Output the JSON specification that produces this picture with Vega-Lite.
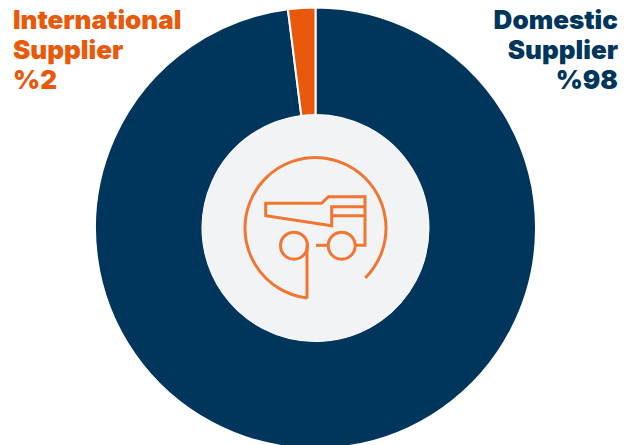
{
  "$schema": "https://vega.github.io/schema/vega-lite/v6.json",
  "width": 631,
  "height": 445,
  "padding": 0,
  "autosize": {"type": "none"},
  "background": "#ffffff",
  "view": {"stroke": null},
  "datasets": {
    "suppliers": [
      {"supplier": "Domestic Supplier", "share": 98, "rank": 1, "label": "Domestic\nSupplier\n%98"},
      {"supplier": "International Supplier", "share": 2, "rank": 2, "label": "International\nSupplier\n%2"}
    ],
    "truck": [
      {"part": "body", "step": 1, "px": 356, "py": 245.2},
      {"part": "body", "step": 2, "px": 365, "py": 245.2},
      {"part": "body", "step": 3, "px": 365, "py": 196.7},
      {"part": "body", "step": 4, "px": 328.3, "py": 196.7},
      {"part": "body", "step": 5, "px": 321.7, "py": 203.3},
      {"part": "body", "step": 6, "px": 265.7, "py": 203.3},
      {"part": "body", "step": 7, "px": 265.7, "py": 215.7},
      {"part": "body", "step": 8, "px": 331.7, "py": 225.7},
      {"part": "body", "step": 9, "px": 331.7, "py": 206.7},
      {"part": "body", "step": 10, "px": 365, "py": 206.7},
      {"part": "rail", "step": 1, "px": 331.7, "py": 215.7},
      {"part": "rail", "step": 2, "px": 365, "py": 215.7},
      {"part": "axle", "step": 1, "px": 316, "py": 245.3},
      {"part": "axle", "step": 2, "px": 328, "py": 245.3},
      {"part": "stem", "step": 1, "px": 307, "py": 245},
      {"part": "stem", "step": 2, "px": 307, "py": 298.5}
    ],
    "wheels": [
      {"px": 294, "py": 245.7},
      {"px": 341.7, "py": 245.7}
    ],
    "ring": [
      {"start": 3.26, "end": 8.64}
    ]
  },
  "layer": [
    {
      "data": {"name": "suppliers"},
      "mark": {"type": "arc", "radius": 220.5, "radius2": 113, "stroke": "#ffffff", "strokeWidth": 2},
      "encoding": {
        "x": {"datum": 315.5, "type": "quantitative", "scale": {"domain": [0, 631], "range": [0, 631], "nice": false, "zero": false}, "axis": null},
        "y": {"datum": 228, "type": "quantitative", "scale": {"domain": [0, 445], "range": [0, 445], "nice": false, "zero": false}, "axis": null},
        "theta": {"field": "share", "type": "quantitative", "stack": true, "scale": {"domain": [0, 100], "range": [0, 6.28319]}},
        "order": {"field": "rank", "type": "ordinal"},
        "color": {"field": "supplier", "type": "nominal", "legend": null, "scale": {"domain": ["Domestic Supplier", "International Supplier"], "range": ["#00355c", "#e8590c"]}}
      }
    },
    {
      "data": {"values": [{"hub": "centre"}]},
      "mark": {"type": "point", "shape": "circle", "filled": true, "opacity": 1, "size": 51529, "color": "#f1f3f5"},
      "encoding": {
        "x": {"datum": 315.5, "type": "quantitative"},
        "y": {"datum": 228, "type": "quantitative"}
      }
    },
    {
      "data": {"name": "ring"},
      "mark": {"type": "arc", "radius": 70.5, "radius2": 70.5, "fillOpacity": 0, "stroke": "#f07632", "strokeWidth": 3},
      "encoding": {
        "x": {"datum": 315.5, "type": "quantitative"},
        "y": {"datum": 228, "type": "quantitative"},
        "theta": {"field": "start", "type": "quantitative", "scale": null},
        "theta2": {"field": "end"}
      }
    },
    {
      "data": {"name": "truck"},
      "mark": {"type": "line", "stroke": "#f07632", "strokeWidth": 3, "strokeJoin": "miter"},
      "encoding": {
        "x": {"field": "px", "type": "quantitative"},
        "y": {"field": "py", "type": "quantitative"},
        "detail": {"field": "part"},
        "order": {"field": "step", "type": "quantitative"}
      }
    },
    {
      "data": {"name": "wheels"},
      "mark": {"type": "point", "shape": "circle", "filled": false, "opacity": 1, "size": 729, "stroke": "#f07632", "strokeWidth": 3},
      "encoding": {
        "x": {"field": "px", "type": "quantitative"},
        "y": {"field": "py", "type": "quantitative"}
      }
    },
    {
      "data": {"name": "suppliers"},
      "transform": [{"filter": "datum.rank === 1"}],
      "mark": {"type": "text", "align": "right", "baseline": "alphabetic", "lineBreak": "\n", "lineHeight": 30, "font": "Inter", "fontWeight": 900, "fontSize": 26, "color": "#00355c"},
      "encoding": {
        "x": {"datum": 618, "type": "quantitative"},
        "y": {"datum": 29, "type": "quantitative"},
        "text": {"field": "label", "type": "nominal"}
      }
    },
    {
      "data": {"name": "suppliers"},
      "transform": [{"filter": "datum.rank === 2"}],
      "mark": {"type": "text", "align": "left", "baseline": "alphabetic", "lineBreak": "\n", "lineHeight": 30, "font": "Inter", "fontWeight": 900, "fontSize": 26, "color": "#e8590c"},
      "encoding": {
        "x": {"datum": 13, "type": "quantitative"},
        "y": {"datum": 29, "type": "quantitative"},
        "text": {"field": "label", "type": "nominal"}
      }
    }
  ]
}
